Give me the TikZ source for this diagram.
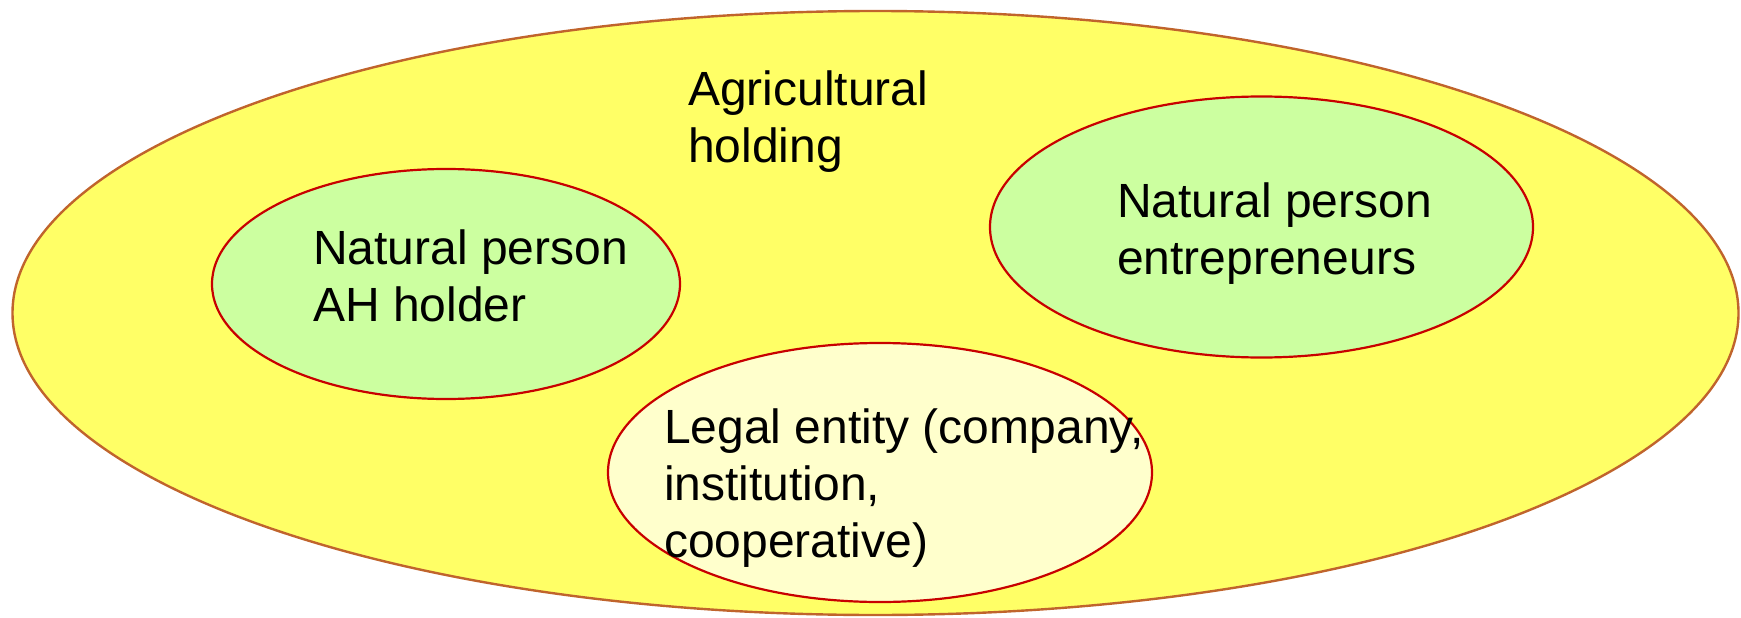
\documentclass[tikz,border=0pt]{standalone}
\usepackage{fontspec}
\setmainfont{Liberation Sans}
\usetikzlibrary{shapes.geometric}
\definecolor{bigfill}{HTML}{FFFF66}
\definecolor{bigline}{HTML}{C0642C}
\definecolor{greenfill}{HTML}{CCFFA0}
\definecolor{paleyellow}{HTML}{FFFFCC}
\definecolor{redline}{HTML}{C80000}
\tikzset{
  blob/.style={ellipse, inner sep=0pt, draw=redline, line width=2.2pt},
  lbl/.style={anchor=base west, inner sep=0pt, font=\fontsize{48}{57}\selectfont}
}
\begin{document}
\begin{tikzpicture}[x=1pt,y=-1pt]
\useasboundingbox (0,0) rectangle (1741,618);
\node[ellipse, inner sep=0pt, draw=bigline, fill=bigfill, line width=2.4pt,
      minimum width=1726pt, minimum height=604pt] (hold) at (875.5,313) {};
\node[blob, fill=greenfill, minimum width=468pt, minimum height=230pt] (ahh) at (446,284) {};
\node[blob, fill=greenfill, minimum width=543pt, minimum height=261pt] (ent) at (1261.5,227) {};
\node[blob, fill=paleyellow, minimum width=544pt, minimum height=259pt] (legal) at (880,472.5) {};
\node[lbl] (tHold) at (688,106) {\begin{tabular}[t]{@{}l@{}}Agricultural\\holding\end{tabular}};
\node[lbl] (tAhh) at (313,264) {\begin{tabular}[t]{@{}l@{}}Natural person\\AH holder\end{tabular}};
\node[lbl] (tEnt) at (1117,217) {\begin{tabular}[t]{@{}l@{}}Natural person\\entrepreneurs\end{tabular}};
\node[lbl] (tLegal) at (664,443) {\begin{tabular}[t]{@{}l@{}}Legal entity (company,\\institution,\\cooperative)\end{tabular}};
\end{tikzpicture}
\end{document}
